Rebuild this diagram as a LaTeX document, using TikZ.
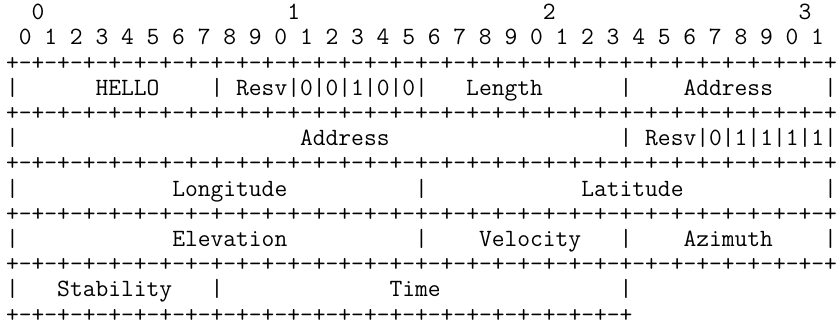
\documentclass[tikz,border=0pt]{standalone}
\usepackage{fontspec}
\begin{document}
\begin{tikzpicture}[x=1pt,y=-1pt,
  asciirow/.style={anchor=base west, inner sep=0pt, outer sep=0pt,
    font=\ttfamily\fontsize{24.82}{25.3}\selectfont}]
\useasboundingbox (0,0) rectangle (838,327);
\def\lx{6.1}
\node[asciirow] (l0)  at (\lx, 19.6) {~~0~~~~~~~~~~~~~~~~~~~1~~~~~~~~~~~~~~~~~~~2~~~~~~~~~~~~~~~~~~~3};
\node[asciirow] (l1)  at (\lx, 44.8) {~0~1~2~3~4~5~6~7~8~9~0~1~2~3~4~5~6~7~8~9~0~1~2~3~4~5~6~7~8~9~0~1};
\node[asciirow] (l2)  at (\lx, 70.0) {+-+-+-+-+-+-+-+-+-+-+-+-+-+-+-+-+-+-+-+-+-+-+-+-+-+-+-+-+-+-+-+-+};
\node[asciirow] (l3)  at (\lx, 95.2) {|~~~~~~HELLO~~~~|~Resv|0|0|1|0|0|~~~Length~~~~~~|~~~~Address~~~~|};
\node[asciirow] (l4)  at (\lx,120.4) {+-+-+-+-+-+-+-+-+-+-+-+-+-+-+-+-+-+-+-+-+-+-+-+-+-+-+-+-+-+-+-+-+};
\node[asciirow] (l5)  at (\lx,145.6) {|~~~~~~~~~~~~~~~~~~~~~~Address~~~~~~~~~~~~~~~~~~|~Resv|0|1|1|1|1|};
\node[asciirow] (l6)  at (\lx,170.8) {+-+-+-+-+-+-+-+-+-+-+-+-+-+-+-+-+-+-+-+-+-+-+-+-+-+-+-+-+-+-+-+-+};
\node[asciirow] (l7)  at (\lx,196.0) {|~~~~~~~~~~~~Longitude~~~~~~~~~~|~~~~~~~~~~~~Latitude~~~~~~~~~~~|};
\node[asciirow] (l8)  at (\lx,221.2) {+-+-+-+-+-+-+-+-+-+-+-+-+-+-+-+-+-+-+-+-+-+-+-+-+-+-+-+-+-+-+-+-+};
\node[asciirow] (l9)  at (\lx,246.4) {|~~~~~~~~~~~~Elevation~~~~~~~~~~|~~~~Velocity~~~|~~~~Azimuth~~~~|};
\node[asciirow] (l10) at (\lx,271.6) {+-+-+-+-+-+-+-+-+-+-+-+-+-+-+-+-+-+-+-+-+-+-+-+-+-+-+-+-+-+-+-+-+};
\node[asciirow] (l11) at (\lx,296.8) {|~~~Stability~~~|~~~~~~~~~~~~~Time~~~~~~~~~~~~~~|};
\node[asciirow] (l12) at (\lx,322.0) {+-+-+-+-+-+-+-+-+-+-+-+-+-+-+-+-+-+-+-+-+-+-+-+-+};
\end{tikzpicture}
\end{document}
